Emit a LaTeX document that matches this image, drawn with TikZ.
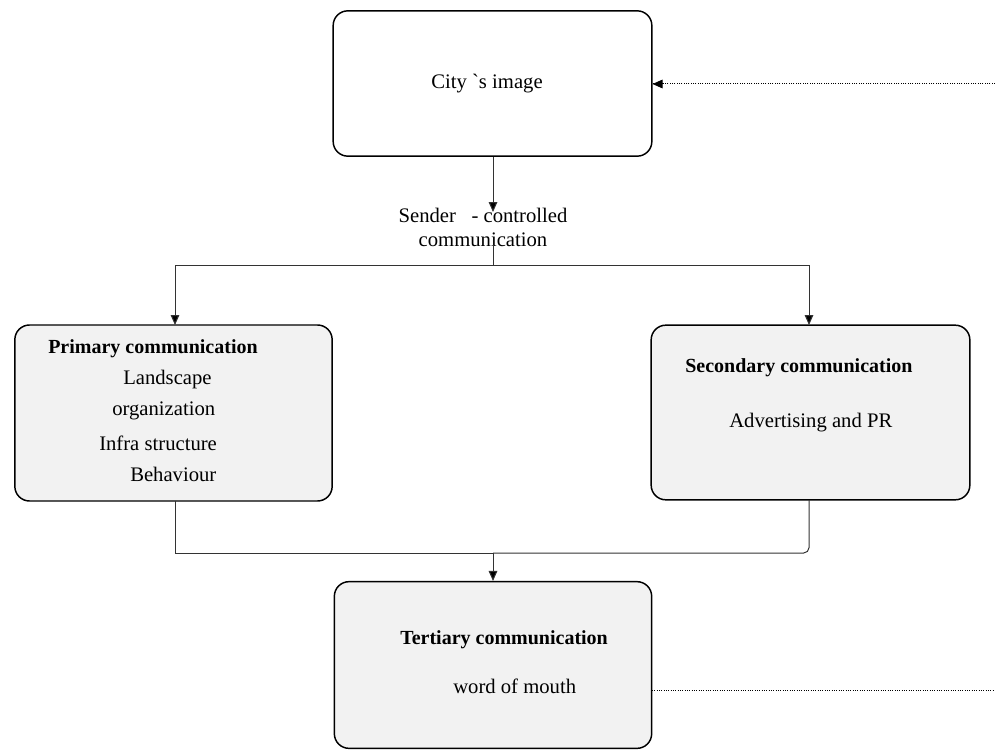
\documentclass[tikz,border=0pt]{standalone}
\usepackage{fontspec}
\setmainfont{Liberation Serif}
\usetikzlibrary{arrows.meta}
\begin{document}
\begin{tikzpicture}[x=0.75pt,y=-0.75pt,
  box/.style={draw=black,line width=1.1pt,rounded corners=11pt,inner sep=0pt},
  greybox/.style={box,fill=black!5},
  txt/.style={inner sep=0pt,font=\fontsize{15.5}{18}\selectfont},
  btxt/.style={txt,font=\fontsize{15}{18}\selectfont\bfseries},
  link/.style={draw=black!80,line width=0.75pt},
  arr/.style={link,-{Triangle[length=7.5pt,width=6.5pt,fill=black]}},
  feedback/.style={draw=black,line width=0.75pt,dash pattern=on 0.75pt off 1pt}]
\useasboundingbox (0,0) rectangle (995,749);

% boxes
\node[box,minimum width=239pt,minimum height=109pt] (city) at (492.5,83.5) {};
\node[greybox,minimum width=238pt,minimum height=132pt] (prim) at (173.5,413) {};
\node[greybox,minimum width=239pt,minimum height=131pt] (sec) at (810.5,412.5) {};
\node[greybox,minimum width=238pt,minimum height=125pt] (ter) at (493,665) {};

% texts
\node[txt] (cityT) at (487,84) {City \textasciigrave s image};
\node[txt,align=center] (sender) at (483,227) {Sender \ \ - controlled\\communication};
\node[btxt,anchor=west] (primT) at (48,349) {Primary communication};
\node[txt,anchor=west] (p1) at (123,380) {Landscape};
\node[txt,anchor=west] (p2) at (112,411) {organization};
\node[txt,anchor=west] (p3) at (99,443) {Infra structure};
\node[txt,anchor=west] (p4) at (130,474) {Behaviour};
\node[btxt,anchor=west] (secT) at (685,368) {Secondary communication};
\node[txt,anchor=west] (s1) at (729,423) {Advertising and PR};
\node[btxt,anchor=west] (terT) at (400,640) {Tertiary communication};
\node[txt,anchor=west] (t1) at (453,686) {word of mouth};

% routing points
\coordinate (senderTop) at (493,212);
\coordinate (senderBot) at (493,245);
\coordinate (split) at (493,265);
\coordinate (join) at (493,553);
\coordinate (feedIn) at (995,84);
\coordinate (terOut) at (652,690);
\coordinate (feedOut) at (995,690);

% connectors
\draw[arr] (city.south -| senderTop) -- (senderTop);
\draw[link] (senderBot) -- (split);
\draw[arr] (split) -| (175,325);
\draw[arr] (split) -| (809,325);
\draw[link] (175,501) |- (join);
\draw[link,rounded corners=4pt] (809,500) |- (join);
\draw[arr] (join) -- (ter.north -| join);

% feedback loop
\draw[feedback] (terOut) -- (feedOut);
\draw[feedback] (feedIn) -- (city.east |- feedIn);
\draw[arr,draw=black] ([xshift=8pt]city.east |- feedIn) -- (city.east |- feedIn);
\end{tikzpicture}
\end{document}
